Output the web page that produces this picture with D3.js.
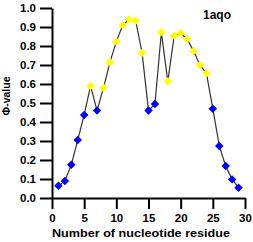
<!DOCTYPE html>
<html><head><meta charset="utf-8">
<script src="https://cdn.jsdelivr.net/npm/d3@7"></script>
<style>body{margin:0;background:#fff}svg{display:block}text{font-family:Arial,"Liberation Sans",sans-serif;font-weight:bold}</style>
</head><body><svg id="c" width="253" height="242"></svg>
<script>
const residues = [1,2,3,4,5,6,7,8,9,10,11,12,13,14,15,16,17,18,19,20,21,22,23,24,25,26,27,28,29];
const phiValues = [0.065,0.09,0.175,0.305,0.437,0.59,0.46,0.58,0.714,0.823,0.91,0.94,0.933,0.765,0.46,0.495,0.872,0.614,0.854,0.867,0.837,0.774,0.70,0.656,0.47,0.274,0.168,0.098,0.054];
const xTicks = [0,5,10,15,20,25,30];
const yTicks = [0,0.1,0.2,0.3,0.4,0.5,0.6,0.7,0.8,0.9,1.0];
const title = "1aqo";

const svg = d3.select("#c");
const x = d3.scaleLinear().domain([0,30]).range([52,245]);
const y = d3.scaleLinear().domain([0,1]).range([198,8]);

const yAxis = svg.append("g").attr("transform","translate(52,0)")
  .call(d3.axisLeft(y).tickValues(yTicks).tickFormat(d3.format(".1f")).tickSize(12).tickSizeOuter(0).tickPadding(4));
const xAxis = svg.append("g").attr("transform","translate(0,198)")
  .call(d3.axisBottom(x).tickValues(xTicks).tickSize(11).tickSizeOuter(0).tickPadding(5));
[xAxis,yAxis].forEach(g=>{
  g.selectAll("path,line").attr("stroke","#000").attr("stroke-width",2);
  g.selectAll("text").attr("font-size",11.5).attr("font-weight","bold").attr("fill","#000")
   .attr("font-family","Arial, 'Liberation Sans', sans-serif");
});

const pts = residues.map((r,i)=>({r,v:phiValues[i]}));
svg.append("path").datum(pts)
  .attr("d", d3.line().x(d=>x(d.r)).y(d=>y(d.v)))
  .attr("fill","none").attr("stroke","#333").attr("stroke-width",1.2);

const sym = d3.symbol().type(d3.symbolSquare).size(36);
svg.append("g").selectAll("path").data(pts).join("path")
  .attr("d", sym)
  .attr("transform", d=>`translate(${x(d.r)},${y(d.v)}) rotate(45)`)
  .attr("fill", d=> d.v > 0.5 ? "#FFFF00" : "#0000FF");

svg.append("text").attr("x",217).attr("y",19).attr("text-anchor","middle").attr("font-size",12).text(title);
svg.append("text").attr("x",52).attr("y",237).attr("font-size",11)
  .attr("textLength",178).attr("lengthAdjust","spacingAndGlyphs").text("Number of nucleotide residue");
svg.append("text").attr("transform","translate(10,96) rotate(-90)").attr("text-anchor","middle").attr("font-size",10.5).text("Φ-value");
</script></body></html>
